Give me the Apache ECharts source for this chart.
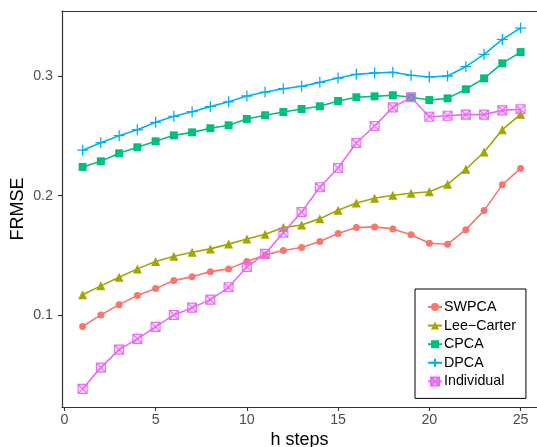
<!DOCTYPE html>
<html>
<head>
<meta charset="utf-8">
<script src="https://cdn.jsdelivr.net/npm/echarts@6/dist/echarts.min.js"></script>
<style>html,body{margin:0;padding:0;background:#fff;}#c{width:537px;height:447px;}</style>
</head>
<body>
<div id="c"></div>
<script>
const steps = [1,2,3,4,5,6,7,8,9,10,11,12,13,14,15,16,17,18,19,20,21,22,23,24,25];
const seriesNames = ['SWPCA','Lee\u2212Carter','CPCA','DPCA','Individual'];
const swpca = [0.0906,0.1003,0.1089,0.1165,0.1223,0.1290,0.1323,0.1365,0.1388,0.1449,0.1505,0.1541,0.1566,0.1616,0.1683,0.1733,0.1739,0.1722,0.1674,0.1602,0.1594,0.1716,0.1875,0.2092,0.2226];
const leeCarter = [0.1171,0.1246,0.1318,0.1388,0.1449,0.1494,0.1527,0.1555,0.1595,0.1638,0.1677,0.1733,0.1755,0.1808,0.1878,0.1939,0.1978,0.2003,0.2020,0.2033,0.2095,0.2221,0.2365,0.2551,0.2680];
const cpca = [0.2240,0.2287,0.2354,0.2404,0.2454,0.2504,0.2529,0.2563,0.2588,0.2641,0.2672,0.2699,0.2724,0.2747,0.2791,0.2822,0.2830,0.2839,0.2822,0.2799,0.2813,0.2889,0.2980,0.3106,0.3200];
const dpca = [0.2380,0.2443,0.2501,0.2551,0.2613,0.2663,0.2702,0.2744,0.2784,0.2833,0.2866,0.2894,0.2914,0.2947,0.2983,0.3014,0.3025,0.3031,0.3006,0.2992,0.3000,0.3078,0.3181,0.3306,0.3401];
const individual = [0.0385,0.0563,0.0713,0.0803,0.0903,0.1003,0.1064,0.1131,0.1234,0.1404,0.1513,0.1691,0.1864,0.2070,0.2231,0.2440,0.2582,0.2738,0.2822,0.2660,0.2668,0.2677,0.2677,0.2713,0.2722];
const xTicks = [0,5,10,15,20,25];
const yTicks = [0.1,0.2,0.3];

const colors = ['#F8766D','#A3A500','#00BF7D','#00B0F6','#E76BF3'];
const values = [swpca, leeCarter, cpca, dpca, individual];
const FONT = '"Liberation Sans", Arial, sans-serif';
const axisColor = '#333333';

function pairs(arr){ return steps.map((s,i)=>[s, arr[i]]); }

const symbols = [
  {symbol:'circle', size:7, item:{color:colors[0]}},
  {symbol:'triangle', size:9, item:{color:colors[1]}},
  {symbol:'rect', size:8, item:{color:colors[2]}},
  {symbol:'path://M5,0L5,10M0,5L10,5', size:11, item:{color:'rgba(0,0,0,0)', borderColor:colors[3], borderWidth:1.3}},
  {symbol:'path://M0,0L10,0L10,10L0,10Z M0,0L10,10M10,0L0,10', size:9, item:{color:'rgba(231,107,243,0.25)', borderColor:colors[4], borderWidth:1.1}}
];

const series = seriesNames.map((n,k)=>({
  name:n, type:'line', data:pairs(values[k]),
  symbol:symbols[k].symbol, symbolSize:symbols[k].size,
  itemStyle:symbols[k].item,
  lineStyle:{color:colors[k], width:1.6},
  showAllSymbol:true, animation:false, z: 2
}));

const chart = echarts.init(document.getElementById('c'), null, {renderer:'canvas'});
chart.setOption({
  animation:false,
  backgroundColor:'#ffffff',
  grid:{left:62, right:0, top:11, bottom:40, containLabel:false, outerBoundsMode:'none'},
  xAxis:[{
    type:'value', min:-0.13, max:25.9,
    name:'h steps', nameLocation:'middle', nameGap:24, nameMoveOverlap:false,
    nameTextStyle:{fontFamily:FONT, fontSize:18, color:'#000'},
    axisLine:{show:true, lineStyle:{color:axisColor, width:1.2}},
    axisTick:{show:true, length:4, customValues:xTicks, lineStyle:{color:axisColor, width:1.1}},
    axisLabel:{customValues:xTicks, fontFamily:FONT, fontSize:14.3, color:'#4D4D4D', margin:6},
    splitLine:{show:false}
  },{
    type:'value', position:'top', min:-0.13, max:25.9,
    axisLine:{show:true, onZero:false, lineStyle:{color:axisColor, width:1.2}},
    axisTick:{show:false}, axisLabel:{show:false}, splitLine:{show:false}
  }],
  yAxis:{
    type:'value', min:0.02336, max:0.35433,
    name:'FRMSE', nameLocation:'middle', nameGap:35, nameMoveOverlap:false,
    nameTextStyle:{fontFamily:FONT, fontSize:18, color:'#000'},
    axisLine:{show:true, onZero:false, lineStyle:{color:axisColor, width:1.2}},
    axisTick:{show:true, length:4, customValues:yTicks, lineStyle:{color:axisColor, width:1.1}},
    axisLabel:{customValues:yTicks, fontFamily:FONT, fontSize:14.3, color:'#4D4D4D', margin:9,
      formatter:v=>v.toFixed(1)},
    splitLine:{show:false}
  },
  legend:{
    orient:'vertical', left:415, top:289,
    padding:[11,10,10,12],
    itemWidth:14, itemHeight:10, itemGap:4.6,
    backgroundColor:'#ffffff', borderColor:'#000', borderWidth:1, borderRadius:0,
    textStyle:{fontFamily:FONT, fontSize:14.3, color:'#000', lineHeight:14, padding:[0,0,0,-3]},
    data:seriesNames
  },
  series:series
});
</script>
</body>
</html>
